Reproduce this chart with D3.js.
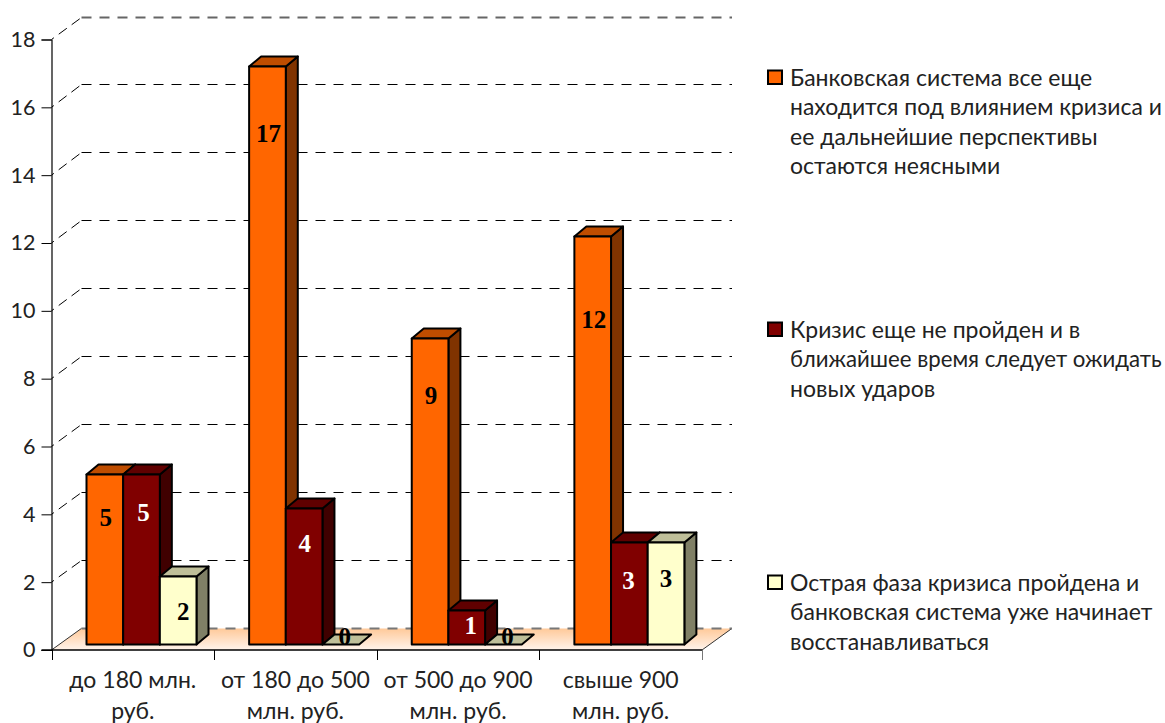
<!DOCTYPE html>
<html><head><meta charset="utf-8">
<script src="https://cdn.jsdelivr.net/npm/d3@7"></script>
<style>html,body{margin:0;background:#fff}svg{display:block}</style></head>
<body><svg id="c" width="1165" height="723"></svg>
<script>
const categories=[["до 180 млн.","руб."],["от 180 до 500","млн. руб."],["от 500 до 900","млн. руб."],["свыше 900","млн. руб."]];
const seriesA=[5,17,9,12];
const seriesB=[5,4,1,3];
const seriesC=[2,0,0,3];
const yTicks=[0,2,4,6,8,10,12,14,16,18];
const legendLines=[
 ["Банковская система все еще","находится под влиянием кризиса и","ее дальнейшие перспективы","остаются неясными"],
 ["Кризис еще не пройден и в","ближайшее время следует ожидать","новых ударов"],
 ["Острая фаза кризиса пройдена и","банковская система уже начинает","восстанавливаться"]];

const FONT="Lato, 'Noto Sans', sans-serif";
const fills=["#FF6600","#800000","#FFFFCC"], tops=["#BF4D00","#600000","#BFBF99"], sides=["#803300","#400000","#808066"];
const ink="#222";
const svg=d3.select("#c");
const y=d3.scaleLinear().domain([0,18]).range([650,39.5]);
const yGrid=d3.scaleLinear().domain([0,18]).range([628.4,16.4]);
const yBar=d3.scaleLinear().domain([0,18]).range([644.5,32.5]);
const x=d3.scaleBand().domain(d3.range(categories.length)).range([51.5,702]);
const inner=d3.scaleBand().domain([0,1,2]).range([35,145]);
const wallDx=30,depthDx=12,depthDy=10,gridTopLimit=17.5;

const grad=svg.append("defs").append("linearGradient").attr("id","fl").attr("x1",0).attr("x2",0).attr("y1",0).attr("y2",1);
grad.append("stop").attr("offset",0).attr("stop-color","#FFC999");
grad.append("stop").attr("offset",1).attr("stop-color","#FFF4EC");

const x0=x.range()[0],x1=x.range()[1];
svg.append("polygon").attr("fill","url(#fl)").attr("points",[[x0,y(0)],[x0+wallDx,yGrid(0)],[x1+wallDx,yGrid(0)],[x1,y(0)]].join(" "));
svg.append("path").attr("fill","none").attr("stroke","#333").attr("stroke-width",1)
  .attr("d",`M${x1},${y(0)}L${x1+wallDx},${yGrid(0)}M${x0},${y(0)}L${x0+wallDx},${yGrid(0)}`);

const grid=svg.append("g").attr("fill","none").attr("stroke","#000").attr("stroke-width",1).attr("stroke-dasharray","10 8");
yTicks.forEach(v=>{
  const yb=Math.floor(Math.max(yGrid(v),gridTopLimit))+.5, top=v===18;
  grid.append("path").attr("stroke",v===0?"#777":(top?"#666":"#000")).attr("stroke-width",v===0||top?2:1).attr("d",`M${x0+wallDx},${yb}H${x1+wallDx}`);
  if(v>0) grid.append("path").attr("stroke-dasharray","3 6 10 6 10 30").attr("d",`M${x0},${y(v)}L${x0+wallDx},${yb}`);
});

const ay=svg.append("g").attr("transform",`translate(${x0},0)`).call(d3.axisLeft(y).tickValues(yTicks).tickSize(10).tickPadding(6));
ay.select(".domain").attr("stroke","#000").attr("stroke-width",1.2);
ay.selectAll("line").attr("stroke","#000");
ay.selectAll("text").attr("font-family",FONT).attr("font-size",21.5).attr("fill",ink);

svg.append("path").attr("stroke","#000").attr("stroke-width",1.5).attr("d",`M${x0-10},${y(0)}H${x1}`);
d3.range(categories.length+1).forEach(i=>{
  const xx=Math.round(x0+i*x.step())+.5;
  svg.append("path").attr("stroke",i==4?"#777":"#000").attr("d",`M${xx},${y(0)}v10`);
});

const series=[seriesA,seriesB,seriesC];
const labelDrop=[[43,67,57,83],[38,35,0,38],[35,0,0,36]];
const labelNudge=[[1,1,1,1],[2,.5,4,-1],[5,4,4,0]];
const labels=[];
categories.forEach((c,i)=>{
  const g=svg.append("g");
  series.forEach((s,k)=>{
    const v=s[i], xl=x(i)+inner(k), xr=xl+inner.bandwidth(), yb=yBar(0), yt=yBar(v);
    const st=p=>p.attr("stroke","#000").attr("stroke-width",2).attr("stroke-linejoin","round");
    if(v>0) st(g.append("polygon").attr("fill",sides[k]).attr("points",[[xr,yb],[xr+depthDx,yb-depthDy],[xr+depthDx,yt-depthDy],[xr,yt]].join(" ")));
    st(g.append("polygon").attr("fill",tops[k]).attr("points",[[xl,yt],[xl+depthDx,yt-depthDy],[xr+depthDx,yt-depthDy],[xr,yt]].join(" ")));
    if(v>0) st(g.append("rect").attr("x",xl).attr("y",yt).attr("width",xr-xl).attr("height",yb-yt).attr("fill",fills[k]));
    const ly= v===0 ? yb-8.5 : (v===1 ? yb-19.5 : yt+labelDrop[k][i]);
    labels.push({t:v,x:(xl+xr)/2+labelNudge[k][i],y:ly,c:k===1?"#fff":"#000"});
  });
});
svg.append("g").selectAll("text").data(labels).join("text")
  .attr("x",d=>d.x).attr("y",d=>d.y).attr("dy",".35em").attr("text-anchor","middle")
  .attr("font-family","'Liberation Serif',serif").attr("font-weight","bold").attr("font-size",25)
  .attr("fill",d=>d.c).text(d=>d.t);

const xl=svg.append("g").attr("font-family",FONT).attr("font-size",23).attr("fill",ink).attr("text-anchor","middle");
categories.forEach((c,i)=>c.forEach((t,j)=>xl.append("text").attr("x",x(i)+x.bandwidth()/2).attr("y",688+j*31).text(t)));

const legY=[86,338,591],legMax=372,legSize=23;
legendLines.forEach((ls,k)=>{
  const g=svg.append("g");
  g.append("rect").attr("x",768).attr("y",legY[k]-15.5).attr("width",14).attr("height",13.5).attr("fill",fills[k]).attr("stroke","#000").attr("stroke-width",2);
  ls.forEach((t,j)=>{
    const n=g.append("text").attr("x",790).attr("y",legY[k]+j*29.3).attr("font-family",FONT).attr("font-size",legSize).attr("fill",ink).text(t);
    const w=n.node().getComputedTextLength();
    if(w>legMax) n.attr("font-size",legSize*legMax/w);
  });
});
</script></body></html>
